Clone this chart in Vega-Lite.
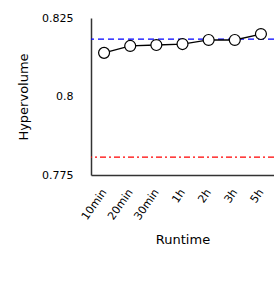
{
  "$schema": "https://vega.github.io/schema/vega-lite/v6.json",
  "width": 183,
  "height": 157,
  "autosize": "none",
  "padding": {"left": 91, "top": 18, "right": 0, "bottom": 110},
  "config": {
    "font": "DejaVu Sans",
    "view": {"stroke": null},
    "axis": {"grid": false, "ticks": false, "domainColor": "#333333", "domainWidth": 1.5, "labelColor": "#000000", "titleColor": "#000000", "labelFont": "DejaVu Sans", "titleFont": "DejaVu Sans", "labelFontSize": 11, "titleFontSize": 13, "titleFontWeight": "normal"}
  },
  "datasets": {
    "runs": [
      {"runtime": "10min", "hv": 0.8139},
      {"runtime": "20min", "hv": 0.8161},
      {"runtime": "30min", "hv": 0.8164},
      {"runtime": "1h", "hv": 0.8167},
      {"runtime": "2h", "hv": 0.8180},
      {"runtime": "3h", "hv": 0.8180},
      {"runtime": "5h", "hv": 0.8199}
    ],
    "refs": [
      {"name": "upper", "hv": 0.8183},
      {"name": "lower", "hv": 0.7807}
    ]
  },
  "layer": [
    {
      "data": {"name": "refs"},
      "transform": [{"filter": "datum.name === 'upper'"}],
      "mark": {"type": "rule", "color": "#0000ff", "strokeDash": [6, 4], "strokeWidth": 1.2},
      "encoding": {"y": {"field": "hv", "type": "quantitative", "scale": {"domain": [0.775, 0.825]}}}
    },
    {
      "data": {"name": "refs"},
      "transform": [{"filter": "datum.name === 'lower'"}],
      "mark": {"type": "rule", "color": "#ff0000", "strokeDash": [6, 3, 2, 3], "strokeWidth": 1.2},
      "encoding": {"y": {"field": "hv", "type": "quantitative"}}
    },
    {
      "data": {"name": "runs"},
      "mark": {"type": "line", "color": "#000000", "strokeWidth": 1.3},
      "encoding": {
        "x": {"field": "runtime", "type": "ordinal", "sort": null},
        "y": {"field": "hv", "type": "quantitative"}
      }
    },
    {
      "data": {"name": "runs"},
      "mark": {"type": "point", "shape": "circle", "filled": true, "fill": "#ffffff", "stroke": "#000000", "strokeWidth": 1.2, "size": 120, "opacity": 1},
      "encoding": {
        "x": {"field": "runtime", "type": "ordinal", "sort": null,
          "scale": {"type": "point", "padding": 0.5},
          "axis": {"title": "Runtime", "labelAngle": -55, "labelPadding": 15, "titlePadding": 12}},
        "y": {"field": "hv", "type": "quantitative",
          "scale": {"domain": [0.775, 0.825], "zero": false, "nice": false},
          "axis": {"title": "Hypervolume", "values": [0.775, 0.8, 0.825], "format": ".3~f", "labelPadding": 18, "titlePadding": 11}}
      }
    }
  ]
}
